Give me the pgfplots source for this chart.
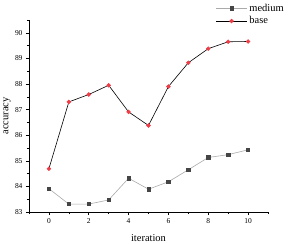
\documentclass[border=0pt]{standalone}
\usepackage{pgfplots}
\pgfplotsset{compat=1.18}
\usepackage{fontspec}
\setmainfont{Liberation Serif}
\definecolor{medline}{HTML}{AAAAAA}
\definecolor{medmark}{HTML}{454545}
\definecolor{baseline}{HTML}{FF9E9E}
\definecolor{basemark}{HTML}{F03C46}
\begin{document}
\begin{tikzpicture}
\useasboundingbox (-29bp,-32bp) rectangle (262bp,212bp);
\begin{axis}[
  scale only axis,
  width=239bp, height=192bp,
  xmin=-1, xmax=11, ymin=83, ymax=90.5,
  axis lines*=left,
  axis line style={line width=0.8pt},
  xtick={0,2,...,10}, minor xtick={-1,1,3,5,7,9,11},
  ytick={83,...,90}, minor ytick={83.5,84.5,...,90.5},
  tick align=outside,
  major tick length=3bp, minor tick length=2bp,
  tick style={black, line width=0.6pt},
  ticklabel style={font=\fontsize{7.5}{8}\selectfont},
  /pgf/number format/assume math mode=true,
  xlabel={iteration}, ylabel={accuracy},
  label style={font=\fontsize{10.5}{12}\selectfont},
  xlabel style={at={(axis description cs:0.5,-0.135)}, anchor=center},
  ylabel style={at={(axis description cs:-0.092,0.5)}, anchor=center},
  legend style={draw=none, fill=none, at={(axis description cs:0.78,1.095)}, anchor=north west,
    font=\fontsize{10.5}{12}\selectfont, row sep=0pt, inner sep=0pt},
  legend cell align=left,
  legend image code/.code={
    \draw[#1, mark repeat=2, mark phase=2] plot coordinates {(0cm,0cm) (0.55cm,0cm) (1.1cm,0cm)};
  },
]
\addplot[medline, line width=0.6pt, mark=square*, mark size=1.7pt, mark options={draw=medmark, fill=medmark}]
coordinates {(0,83.91) (1,83.31) (2,83.31) (3,83.47) (4,84.32) (5,83.89) (6,84.18) (7,84.65) (8,85.13) (9,85.24) (10,85.43)};
\addlegendentry{medium}
\addplot[baseline, line width=0.6pt, mark=*, mark size=1.9pt, mark options={draw=basemark, fill=basemark}]
coordinates {(0,84.69) (1,87.30) (2,87.59) (3,87.95) (4,86.91) (5,86.38) (6,87.90) (7,88.83) (8,89.38) (9,89.65) (10,89.66)};
\addlegendentry{base}
\end{axis}
\end{tikzpicture}
\end{document}
